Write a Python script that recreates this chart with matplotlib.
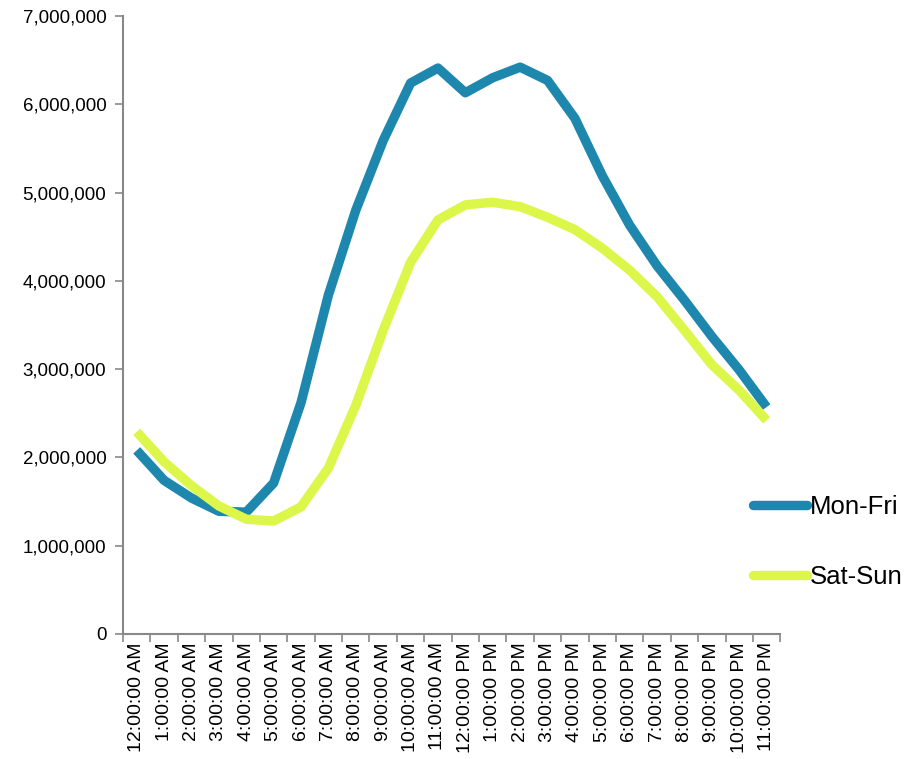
import matplotlib
matplotlib.use("Agg")
import matplotlib.pyplot as plt
from matplotlib.ticker import FuncFormatter, MultipleLocator

plt.rcParams['font.family'] = ['Liberation Sans', 'DejaVu Sans']

hours = ["12:00:00 AM", "1:00:00 AM", "2:00:00 AM", "3:00:00 AM", "4:00:00 AM",
         "5:00:00 AM", "6:00:00 AM", "7:00:00 AM", "8:00:00 AM", "9:00:00 AM",
         "10:00:00 AM", "11:00:00 AM", "12:00:00 PM", "1:00:00 PM", "2:00:00 PM",
         "3:00:00 PM", "4:00:00 PM", "5:00:00 PM", "6:00:00 PM", "7:00:00 PM",
         "8:00:00 PM", "9:00:00 PM", "10:00:00 PM", "11:00:00 PM"]

mon_fri = [2080000, 1740000, 1540000, 1390000, 1380000, 1710000, 2620000, 3840000,
           4800000, 5590000, 6240000, 6410000, 6130000, 6300000, 6420000, 6270000,
           5840000, 5190000, 4630000, 4170000, 3780000, 3370000, 2990000, 2570000]

sat_sun = [2290000, 1950000, 1680000, 1450000, 1300000, 1280000, 1440000, 1880000,
           2590000, 3440000, 4210000, 4690000, 4860000, 4890000, 4840000, 4720000,
           4580000, 4370000, 4120000, 3820000, 3440000, 3050000, 2760000, 2420000]

BLUE = "#1d87ad"
LIME = "#dcf74a"

fig = plt.figure(figsize=(9.18, 7.59), dpi=100)
ax = fig.add_axes([0.134, 0.1647, 0.716, 0.8143])

x = list(range(len(hours)))
ax.plot(x, mon_fri, color=BLUE, lw=6.8, solid_capstyle='butt', label="Mon-Fri")
ax.plot(x, sat_sun, color=LIME, lw=6.8, solid_capstyle='butt', label="Sat-Sun")

ax.set_xlim(-0.5, len(hours) - 0.5)
ax.set_ylim(0, 7000000)
ax.yaxis.set_major_locator(MultipleLocator(1000000))
ax.yaxis.set_major_formatter(FuncFormatter(lambda v, p: f"{int(v):,}"))

ax.set_xticks([i - 0.5 for i in range(len(hours) + 1)], minor=False)
ax.set_xticklabels([])
ax.set_xticks(x, minor=True)
ax.set_xticklabels(hours, minor=True, rotation=90, fontsize=14)
ax.tick_params(axis='x', which='minor', length=0, pad=6)
ax.tick_params(axis='x', which='major', length=6, color='#888888', width=1.2)
ax.tick_params(axis='y', length=6, color='#888888', width=1.2, labelsize=13.5, pad=6)

for side in ['top', 'right']:
    ax.spines[side].set_visible(False)
for side in ['left', 'bottom']:
    ax.spines[side].set_color('#888888')
    ax.spines[side].set_linewidth(1.5)

leg = fig.legend(loc='center left', bbox_to_anchor=(0.795, 0.286), frameon=False,
                 fontsize=18.5, handlelength=2.1, handletextpad=0.1,
                 labelspacing=1.8)
for h in leg.get_lines():
    h.set_solid_capstyle('round')
    h.set_linewidth(6.8)

fig.savefig("out.png", dpi=100)
